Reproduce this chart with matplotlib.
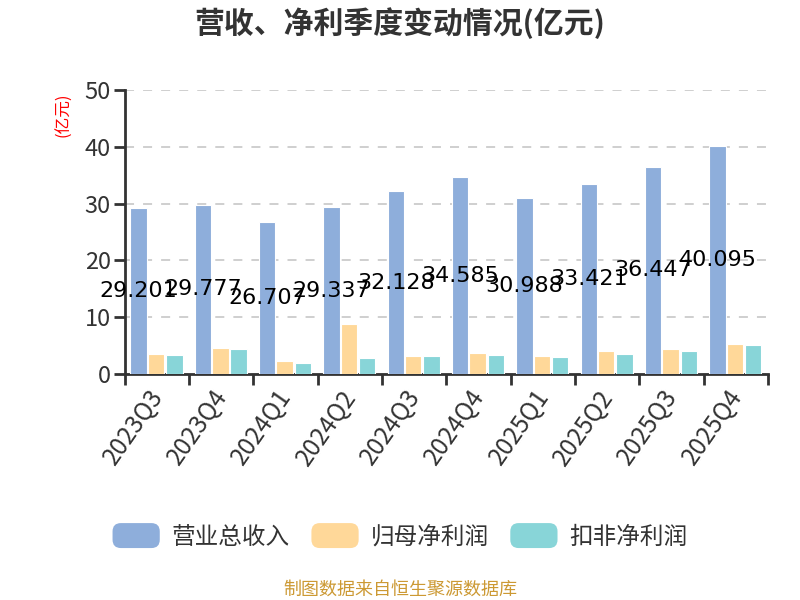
import matplotlib
matplotlib.use("Agg")
import matplotlib.pyplot as plt
import numpy as np
from matplotlib.patches import FancyBboxPatch
from matplotlib.legend_handler import HandlerPatch

plt.rcParams['font.family'] = ['Noto Sans CJK SC', 'DejaVu Sans']

quarters = ["2023Q3", "2023Q4", "2024Q1", "2024Q2", "2024Q3",
            "2024Q4", "2025Q1", "2025Q2", "2025Q3", "2025Q4"]
revenue = [29.201, 29.777, 26.707, 29.337, 32.128, 34.585, 30.988, 33.421, 36.447, 40.095]
net_profit = [3.57, 4.60, 2.30, 8.74, 3.05, 3.74, 3.05, 3.97, 4.43, 5.29]
deducted_profit = [3.28, 4.31, 1.95, 2.82, 3.22, 3.28, 2.93, 3.51, 4.02, 5.06]
series_names = ["营业总收入", "归母净利润", "扣非净利润"]
colors = ["#8eaedb", "#ffd899", "#88d5d8"]

fig = plt.figure(figsize=(8, 6), dpi=100)
ax = fig.add_axes([0.156, 0.377, 0.804, 0.473])

x = np.arange(len(quarters))
w = 0.255
offsets = [-0.285, -0.015, 0.27]
data = [revenue, net_profit, deducted_profit]
bars = []
for d, off, c, n in zip(data, offsets, colors, series_names):
    b = ax.bar(x + off, d, width=w, color=c, edgecolor="white", linewidth=0.8, label=n, zorder=3)
    bars.append(b)

for xi, v in zip(x, revenue):
    ax.text(xi + offsets[0], v / 2, f"{v:.3f}", ha="center", va="center",
            fontsize=16, color="black", family="DejaVu Sans", zorder=5)

ax.set_xlim(-0.5, len(quarters) - 0.5)
ax.set_ylim(0, 50)
ax.set_yticks([0, 10, 20, 30, 40, 50])
ax.set_xticks(np.arange(len(quarters) + 1) - 0.5)
ax.set_xticklabels([])
ax.set_xticks(x - 0.15, minor=True)
ax.set_xticklabels(quarters, minor=True, rotation=55, ha="right", va="top",
                   rotation_mode="anchor", fontsize=17.5, color="#333333")
ax.tick_params(axis="x", which="minor", length=0, pad=8)
ax.tick_params(axis="x", which="major", length=8, width=2, color="#333333")
ax.tick_params(axis="y", length=8, width=2, color="#333333", labelsize=17, labelcolor="#333333", pad=2)

ax.grid(axis="y", linestyle=(0, (5, 5)), color="#cccccc", linewidth=1.3, zorder=0)
for s in ["top", "right"]:
    ax.spines[s].set_visible(False)
for s in ["left", "bottom"]:
    ax.spines[s].set_color("#333333")
    ax.spines[s].set_linewidth(2)

fig.text(0.08, 0.808, "(亿元)", rotation=90, color="red", fontsize=12, ha="center", va="center")

fig.text(0.5, 0.962, "营收、净利季度变动情况(亿元)", ha="center", va="center",
         fontsize=21.5, fontweight="bold", color="#333333")


class RoundHandler(HandlerPatch):
    def create_artists(self, legend, orig_handle, xdescent, ydescent, width, height, fontsize, trans):
        p = FancyBboxPatch((-xdescent, -ydescent), width, height,
                           boxstyle="round,pad=0,rounding_size=6",
                           facecolor=orig_handle.get_facecolor(),
                           edgecolor="none", transform=trans)
        return [p]


handles = [b.patches[0] for b in bars]
leg = fig.legend(handles, series_names, loc="center", bbox_to_anchor=(0.5, 0.107),
                 ncol=3, frameon=False, fontsize=17, handlelength=2.0, handleheight=1.25,
                 columnspacing=0.92, handletextpad=0.5,
                 handler_map={matplotlib.patches.Rectangle: RoundHandler()})
for t in leg.get_texts():
    t.set_color("#333333")

fig.text(0.5, 0.017, "制图数据来自恒生聚源数据库", ha="center", va="center",
         fontsize=13, color="#cc9933")

fig.savefig("out.png", dpi=100)
